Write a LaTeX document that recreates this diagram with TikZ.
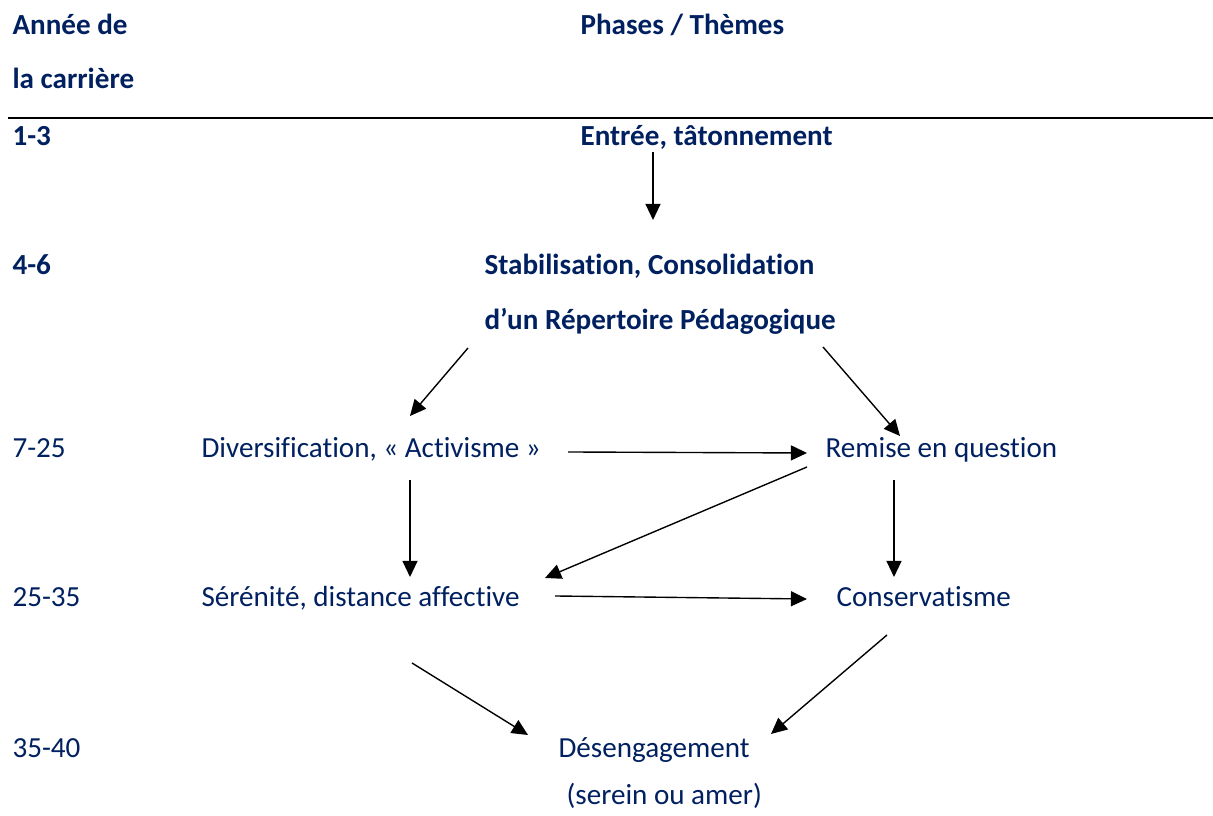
\documentclass[tikz,border=0pt]{standalone}
\usepackage{fontspec}
\setmainfont{Carlito}[Ligatures=NoCommon]
\usepackage{xcolor}
\usepackage{tikz}
\usetikzlibrary{arrows.meta,positioning}

\definecolor{navy}{RGB}{0,32,96}

\tikzset{
  phase/.style={anchor=base west, inner sep=0pt, text=navy, font=\fontsize{10.5}{13}\selectfont},
  phasebf/.style={phase, font=\fontsize{10.5}{13}\selectfont\bfseries},
  arr/.style={-{Triangle[length=5.8pt,width=5.4pt]}, line width=0.5pt, black}
}

\begin{document}
\begin{tikzpicture}[x=0.3607pt, y=-0.3607pt]
        \useasboundingbox (0,0) rectangle (1213,816);

        % en-tete du tableau
        \node[phasebf] (annee1) at (12,35) {Année de};
        \node[phasebf] (annee2) at (12,89) {la carrière};
        \node[phasebf] (phases) at (580,35) {Phases / Thèmes};
        \draw[line width=0.75pt] (8,117.6) -- (1213,117.6);

        % annees
        \node[phasebf] (r13) at (12,146) {1-3};
        \node[phasebf] (r46) at (12,275) {4-6};
        \node[phase] (r725) at (12,458) {7-25};
        \node[phase] (r2535) at (12,607) {25-35};
        \node[phase] (r3540) at (12,758) {35-40};

        % phases
        \node[phasebf] (entree) at (580,146) {Entrée, tâtonnement};
        \node[phasebf] (stab) at (484,275) {Stabilisation, Consolidation};
        \node[phasebf] (rep) at (484,330) {d’un Répertoire Pédagogique};
        \node[phase] (div) at (201,458) {Diversification, « Activisme »};
        \node[phase] (rem) at (825,458) {Remise en question};
        \node[phase] (ser) at (201,607) {Sérénité, distance affective};
        \node[phase] (cons) at (836,607) {Conservatisme};
        \node[phase] (des) at (558,758) {Désengagement};
        \node[phase] (amer) at (566,805) {(serein ou amer)};

        % fleches
        \draw[arr] ([shift={(73,6)}]entree.base west) -- ([shift={(169,-55)}]stab.base west);
        \draw[arr] ([shift={(-16,18)}]rep.base west) -- ([shift={(209,-42)}]div.base west);
        \draw[arr] ([shift={(339,17)}]rep.base west) -- ([shift={(75,-22)}]rem.base west);
        \draw[arr] ([shift={(367,-6)}]div.base west) -- ([shift={(-18,-5)}]rem.base west);
        \draw[arr] ([shift={(209,22)}]div.base west) -- ([shift={(209,-30)}]ser.base west);
        \draw[arr] ([shift={(-18,9)}]rem.base west) -- ([shift={(344,-29)}]ser.base west);
        \draw[arr] ([shift={(69,22)}]rem.base west) -- ([shift={(58,-30)}]cons.base west);
        \draw[arr] ([shift={(354,-11)}]ser.base west) -- ([shift={(-29,-8)}]cons.base west);
        \draw[arr] ([shift={(211,56)}]ser.base west) -- ([shift={(-30,-23)}]des.base west);
        \draw[arr] ([shift={(51,28)}]cons.base west) -- ([shift={(213,-24)}]des.base west);
\end{tikzpicture}
\end{document}
